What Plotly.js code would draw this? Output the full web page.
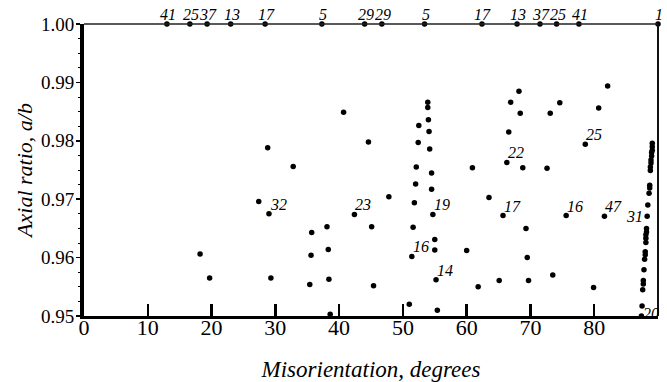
<!DOCTYPE html>
<html>
<head>
<meta charset="utf-8">
<script src="https://cdn.plot.ly/plotly-3.0.1.min.js"></script>
<style>html,body{margin:0;padding:0;background:#fff;}#chart{width:667px;height:382px;}</style>
</head>
<body>
<div id="chart"></div>
<script>
// Unlabelled boundaries: misorientation (degrees) and axial ratio a/b
const misorientation = [
  28.8, 32.8, 27.4, 35.7, 38.1, 18.2, 35.6, 38.3, 19.7, 29.3, 35.4, 38.4, 38.6,
  40.7, 44.6, 53.9, 53.9, 54.0, 52.5, 54.1, 52.4, 54.2, 52.1, 54.5, 52.0, 54.5,
  47.8, 51.8, 45.1, 51.6, 55.0, 55.0, 45.4, 51.0, 55.4,
  68.2, 66.9, 74.6, 68.4, 73.1, 66.6, 60.9, 68.8, 72.6,
  63.5, 69.3, 60.0, 69.5, 61.8, 65.1, 69.7, 73.5,
  82.1, 80.7, 79.9,
  89.1, 89.1, 89.1, 89.0, 89.0, 88.9, 88.9, 88.8, 88.8, 88.7, 88.7, 88.6, 88.4,
  88.2, 88.2, 88.1, 88.1, 88.1, 88.0, 88.0, 87.9, 87.8, 87.7, 87.7, 87.6, 87.5
];
const axialRatio = [
  0.9788, 0.9756, 0.9696, 0.9643, 0.9653, 0.9606, 0.9604, 0.9614, 0.9565, 0.9565, 0.9554, 0.9563, 0.9503,
  0.9849, 0.9798, 0.9866, 0.9857, 0.9836, 0.9826, 0.9816, 0.9797, 0.9786, 0.9755, 0.9745, 0.9726, 0.9717,
  0.9704, 0.9694, 0.9653, 0.9652, 0.9631, 0.9613, 0.9552, 0.9520, 0.9510,
  0.9885, 0.9866, 0.9865, 0.9847, 0.9847, 0.9815, 0.9754, 0.9754, 0.9753,
  0.9703, 0.9650, 0.9612, 0.9600, 0.9550, 0.9561, 0.9561, 0.9570,
  0.9894, 0.9856, 0.9549,
  0.9796, 0.9790, 0.9784, 0.9780, 0.9774, 0.9767, 0.9762, 0.9755, 0.9749, 0.9724, 0.9719, 0.9710, 0.9690,
  0.9650, 0.9644, 0.9639, 0.9633, 0.9626, 0.9610, 0.9605, 0.9597, 0.9579, 0.9561, 0.9555, 0.9545, 0.9517
];

// Labelled boundaries (Σ values)
const labeledX = [29.0, 42.4, 54.7, 51.4, 55.2, 66.3, 65.7, 75.6, 78.6, 81.6, 88.3, 87.4];
const labeledY = [0.9675, 0.9674, 0.9674, 0.9602, 0.9562, 0.9763, 0.9672, 0.9672, 0.9794, 0.9671, 0.9671, 0.9500];
const labeledText = ['32', '23', '19', '16', '14', '22', '17', '16', '25', '47', '31', '20'];

// CSL boundaries along the a/b = 1.00 line
const cslX = [13.0, 16.6, 19.3, 23.0, 28.4, 37.3, 44.0, 46.7, 53.4, 62.4, 67.9, 71.5, 74.1, 77.6, 90.0];
const cslY = [1.00, 1.00, 1.00, 1.00, 1.00, 1.00, 1.00, 1.00, 1.00, 1.00, 1.00, 1.00, 1.00, 1.00, 1.00];
const cslLabel = ['41', '25', '37', '13', '17', '5', '29', '29', '5', '17', '13', '37', '25', '41', '1'];

// Axis ticks
const xTicks = [0, 10, 20, 30, 40, 50, 60, 70, 80, 90];
const yTicks = [0.95, 0.96, 0.97, 0.98, 0.99, 1.00];
const yTickText = ['0.95', '0.96', '0.97', '0.98', '0.99', '1.00'];

const serif = 'Liberation Serif';
const dot = {color: '#000', size: 5.5};
const labelFont = {family: serif, size: 16, color: '#000', style: 'italic'};

const traces = [
  {x: misorientation, y: axialRatio, type: 'scatter', mode: 'markers', marker: dot, cliponaxis: false},
  {x: labeledX, y: labeledY, type: 'scatter', mode: 'markers', marker: dot, cliponaxis: false},
  {x: cslX, y: cslY, type: 'scatter', mode: 'markers', marker: dot, cliponaxis: false}
];

// label placement style (left of the point for Σ31, beside the point for Σ20, else above right)
function labelStyle(t) {
  if (t === '31') return {xanchor: 'right', yanchor: 'middle', xshift: -3, yshift: 0};
  if (t === '20') return {xanchor: 'left', yanchor: 'middle', xshift: 1, yshift: 3};
  return {xanchor: 'left', yanchor: 'bottom', xshift: 0, yshift: 0};
}

const annotations = labeledX.map((x, i) => Object.assign({
  x: x, y: labeledY[i], xref: 'x', yref: 'y', text: labeledText[i], showarrow: false,
  borderpad: 0, font: labelFont
}, labelStyle(labeledText[i]))).concat(cslX.map((x, i) => ({
  x: x, y: cslY[i], xref: 'x', yref: 'y', text: cslLabel[i], showarrow: false,
  xanchor: 'center', yanchor: 'bottom', xshift: 1, yshift: 0, borderpad: 0, font: labelFont
})));

const layout = {
  width: 667, height: 382,
  margin: {l: 84, r: 9, t: 24, b: 66},
  paper_bgcolor: '#fff', plot_bgcolor: '#fff',
  showlegend: false,
  font: {family: serif, color: '#000'},
  xaxis: {
    range: [0, 90], tickvals: xTicks, ticktext: xTicks.map(String),
    ticks: 'inside', ticklen: 12, tickwidth: 2.5, tickcolor: '#000',
    ticklabelstandoff: -10,
    showline: true, linewidth: 3, linecolor: '#000',
    showgrid: false, zeroline: false,
    tickfont: {family: serif, size: 22, color: '#000'},
    title: {text: 'Misorientation, degrees', standoff: 26,
            font: {family: serif, size: 23, color: '#000', style: 'italic'}}
  },
  yaxis: {
    range: [0.95, 1.00], tickvals: yTicks, ticktext: yTickText,
    ticks: 'outside', ticklen: 4, tickwidth: 1.5, tickcolor: '#000',
    ticklabelstandoff: -2,
    minor: {ticks: 'outside', ticklen: 2, tickwidth: 1, tickcolor: '#000', dtick: 0.0025},
    showline: true, linewidth: 4, linecolor: '#000',
    showgrid: false, zeroline: false,
    tickfont: {family: serif, size: 19, color: '#000'},
    title: {text: 'Axial ratio, a/b', standoff: 3,
            font: {family: serif, size: 22, color: '#000', style: 'italic'}}
  },
  annotations: annotations,
  shapes: [
    {type: 'line', xref: 'paper', yref: 'paper', x0: 0, x1: 1, y0: 1, y1: 1,
     line: {color: '#222', width: 1.5}},
    {type: 'line', xref: 'paper', yref: 'paper', x0: 1, x1: 1, y0: 0, y1: 1,
     line: {color: '#111', width: 2}}
  ]
};

Plotly.newPlot('chart', traces, layout, {displayModeBar: false, staticPlot: true});
</script>
</body>
</html>
